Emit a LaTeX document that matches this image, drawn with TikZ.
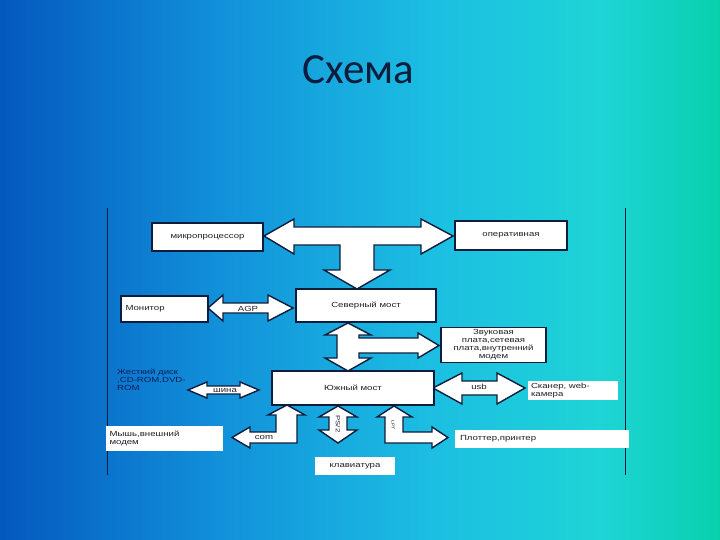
\documentclass[tikz,border=0pt]{standalone}
\usepackage{fontspec}
\newfontfamily\dfont[FakeStretch=1.3]{Liberation Sans}
\newfontfamily\tfont{Carlito}
\definecolor{bgA}{RGB}{4,88,190}
\definecolor{bgB}{RGB}{18,145,218}
\definecolor{bgC}{RGB}{28,190,226}
\definecolor{bgD}{RGB}{30,212,214}
\definecolor{bgE}{RGB}{8,208,172}
\definecolor{ink}{RGB}{12,28,60}
\definecolor{txt}{RGB}{30,30,40}
\definecolor{hddtxt}{RGB}{10,30,90}
\tikzset{
  box/.style={draw=ink, line width=1.6pt, fill=white, inner sep=1pt, font=\dfont\fontsize{7.4}{8}\selectfont, text=txt},
  plainbox/.style={fill=white, inner sep=1pt, font=\dfont\fontsize{7.4}{8}\selectfont, text=txt},
  fat/.style={draw=ink, line width=1.4pt, fill=white, line join=miter},
  lbl/.style={font=\dfont\fontsize{7.4}{8}\selectfont, text=txt, inner sep=0pt},
  side/.style={draw=ink, line width=0.9pt}
}
\begin{document}
\begin{tikzpicture}[x=1pt,y=-1pt]
\useasboundingbox (0,0) rectangle (720,540);
% background
\shade[left color=bgA,right color=bgB] (0,0) rectangle (220.5,540);
\shade[left color=bgB,right color=bgC] (220,0) rectangle (430.5,540);
\shade[left color=bgC,right color=bgD] (430,0) rectangle (600.5,540);
\shade[left color=bgD,right color=bgE] (600,0) rectangle (720,540);
% title
\node[font=\tfont\fontsize{43}{46}\selectfont, text=ink, anchor=base, inner sep=0pt] (title) at (358,84) {Схема};
% side lines
\coordinate (l1) at (107,208); \coordinate (l2) at (107,475);
\coordinate (r1) at (625,208); \coordinate (r2) at (625,475);
\draw[side] (l1) -- (l2);
\draw[side] (r1) -- (r2);
% fat arrows
\draw[fat] (264,236) -- (294,219) -- (294,227) -- (421,227) -- (421,219) -- (453,236) -- (421,254) -- (421,245) -- (374,245) -- (374,270) -- (390,270) -- (357,289) -- (324,270) -- (340,270) -- (340,245) -- (294,245) -- (294,254) -- cycle;
\draw[fat] (208,308) -- (223,295) -- (223,303) -- (268,303) -- (268,295) -- (293,308) -- (268,321) -- (268,313) -- (223,313) -- (223,321) -- cycle;
\draw[fat] (348,323) -- (371,335) -- (359,335) -- (359,338) -- (418,338) -- (418,333) -- (439,345.5) -- (418,358) -- (418,353) -- (359,353) -- (359,358) -- (371,358) -- (348,371) -- (325,358) -- (337,358) -- (337,335) -- (325,335) -- cycle;
\draw[fat] (188,390) -- (207,382) -- (207,386) -- (240,386) -- (240,382) -- (259,390) -- (240,398) -- (240,394) -- (207,394) -- (207,398) -- cycle;
\draw[fat] (433,388) -- (462,373) -- (462,381) -- (497,381) -- (497,373) -- (525,388) -- (497,404) -- (497,395) -- (462,395) -- (462,404) -- cycle;
\draw[fat] (287,405) -- (305,415) -- (297,415) -- (297,443) -- (250,443) -- (250,448) -- (232,437.5) -- (250,427) -- (250,432) -- (276,432) -- (276,415) -- (268,415) -- cycle;
\draw[fat] (338,406) -- (357,417) -- (347,417) -- (347,430) -- (357,430) -- (338,443) -- (319,430) -- (329,430) -- (329,417) -- (319,417) -- cycle;
\draw[fat] (394,406) -- (412,417) -- (403,417) -- (403,432) -- (432,432) -- (432,427) -- (448,437.5) -- (432,448) -- (432,443) -- (385,443) -- (385,417) -- (377,417) -- cycle;
% arrow labels
\node[lbl] (agp) at (248,309) {AGP};
\node[lbl] (bus) at (225,391) {шина};
\node[lbl] (usb) at (479,387) {usb};
\node[lbl] (com) at (264,438) {com};
\node[lbl, rotate=-90, font=\dfont\fontsize{6}{7}\selectfont] (ps2) at (338,424) {PS/2};
\node[lbl, rotate=-90, font=\dfont\fontsize{4}{5}\selectfont] (lpt) at (393,425) {LPT};
% boxes
\node[box, minimum width=111pt, minimum height=28pt] (cpu) at (207.5,237) {микропроцессор};
\node[box, minimum width=112pt, minimum height=29pt] (ram) at (511,235.5) {оперативная};
\node[box, minimum width=140pt, minimum height=33pt] (nb) at (366,305.5) {Северный мост};
\node[box, minimum width=87pt, minimum height=26pt, text width=78pt, align=left] (mon) at (164.5,309) {Монитор};
\node[box, minimum width=105pt, minimum height=35pt, align=center, inner sep=0pt] (snd) at (493.5,345) {Звуковая\\плата,сетевая\\плата,внутренний\\модем};
\node[box, minimum width=162pt, minimum height=34pt] (sb) at (353,388) {Южный мост};
\node[font=\dfont\fontsize{7.4}{8}\selectfont, text=hddtxt, align=left, anchor=north west, inner sep=0pt] (hdd) at (117,369) {Жесткий диск\\,CD-ROM,DVD-\\ROM};
\node[plainbox, minimum width=90pt, minimum height=19pt, text width=84pt, align=left] (scan) at (573,390.5) {Сканер, web-\\камера};
\node[plainbox, minimum width=117pt, minimum height=25pt, text width=110pt, align=left] (mouse) at (164.5,438.5) {Мышь,внешний\\модем};
\node[plainbox, minimum width=174pt, minimum height=18pt, text width=164pt, align=left] (plot) at (542,439) {Плоттер,принтер};
\node[plainbox, minimum width=80pt, minimum height=18pt] (kbd) at (355,466) {клавиатура};
\end{tikzpicture}
\end{document}
